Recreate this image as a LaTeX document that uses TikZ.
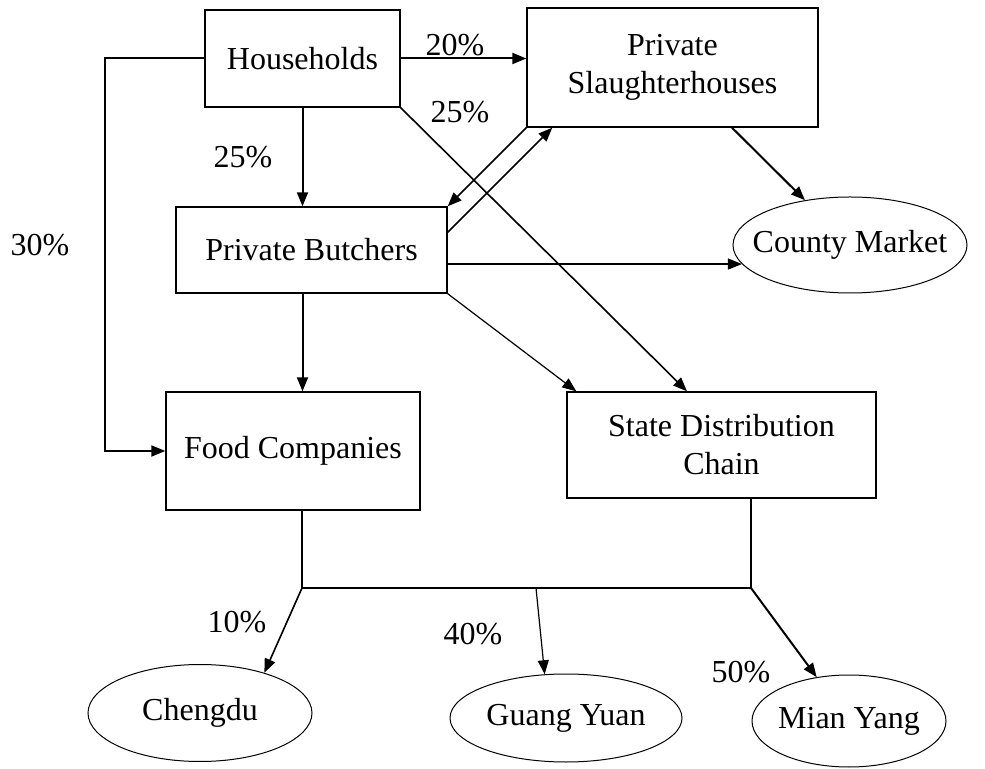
\documentclass[tikz,border=0pt]{standalone}
\usepackage{fontspec}
\setmainfont{Liberation Serif}
\usepackage{tikz}
\usetikzlibrary{shapes.geometric, arrows.meta, positioning, calc}
\tikzstyle{unit} = [rectangle, draw=black, line width=0.7pt, inner sep=0pt, align=center]
\tikzstyle{market} = [ellipse, draw=black, line width=0.5pt, inner sep=-20pt, align=center]
\tikzstyle{pct} = [inner sep=0pt]
\tikzstyle{arrow} = [line width=1pt,->,>={Triangle[length=7pt,width=5.5pt]}]
\tikzstyle{thinarrow} = [line width=0.6pt,->,>={Triangle[length=7pt,width=5.5pt]}]

\begin{document}
\begin{tikzpicture}[x=0.5pt, y=-0.5pt, font=\fontsize{16}{19}\selectfont]
        \useasboundingbox (0,0) rectangle (985,769);
        % boxes
        \node (house) [unit, minimum width=97.5pt, minimum height=48.5pt] at (302.5,58.5) {Households};
        \node (slaughter) [unit, minimum width=145.5pt, minimum height=59.5pt] at (672.5,67.5) {Private\\Slaughterhouses};
        \node (butcher) [unit, minimum width=135.5pt, minimum height=43pt] at (311.5,250) {Private Butchers};
        \node (food) [unit, minimum width=127pt, minimum height=59pt] at (293,451) {Food Companies};
        \node (state) [unit, minimum width=154.5pt, minimum height=53pt] at (721.5,445) {State Distribution\\Chain};
        % markets
        \node (county) [market, minimum width=117pt, minimum height=48pt] at (850,245) {County Market};
        \node (chengdu) [market, minimum width=112pt, minimum height=48.5pt] at (200,713) {Chengdu};
        \node (guang) [market, minimum width=116pt, minimum height=44pt] at (566,718) {Guang Yuan};
        \node (mian) [market, minimum width=97pt, minimum height=46pt] at (849,721) {Mian Yang};
        % shares
        \node (l20) [pct] at (455,45) {20\%};
        \node (l25a) [pct] at (460,112) {25\%};
        \node (l25b) [pct] at (243,157) {25\%};
        \node (l30) [pct] at (40,245) {30\%};
        \node (l10) [pct] at (237,622) {10\%};
        \node (l40) [pct] at (473,634) {40\%};
        \node (l50) [pct] at (741,672) {50\%};

        \coordinate (hub) at (302,588);
        \coordinate (hubm) at (536,588);
        \coordinate (hubr) at (751,588);

        \draw [arrow] (house.east) -- (house.east -| slaughter.west);
        \draw [thinarrow, line width=0.8pt] (house.south east) -- ([xshift=-17.25pt]state.north);
        \draw [arrow] (house.south) -- (house.south |- butcher.north);
        \draw [arrow] (house.west) -- ++(-99,0) |- (food.west);
        \draw [thinarrow, line width=0.8pt] (slaughter.south west) -- (butcher.north east);
        \draw [thinarrow, line width=0.8pt] ([yshift=-13pt]butcher.north east) -- ([xshift=13pt]slaughter.south west);
        \draw [arrow] ([xshift=29.75pt]slaughter.south) -- (county);
        \draw [thinarrow] (butcher.east |- county.190) -- (county.190);
        \draw [thinarrow] (butcher.south east) -- ([xshift=5pt]state.north west);
        \draw [arrow] (house.south |- butcher.south) -- (house.south |- food.north);

        \draw [line width=1pt] (hub |- food.south) -- (hub) -- (hubr);
        \draw [line width=0.6pt] (hubr) -- (hubr |- state.south);
        \draw [thinarrow, line width=0.8pt] (hub) -- (chengdu.32);
        \draw [thinarrow] (hubm) -- (guang.116);
        \draw [arrow] (hubr) -- (mian);
    \end{tikzpicture}
\end{document}
